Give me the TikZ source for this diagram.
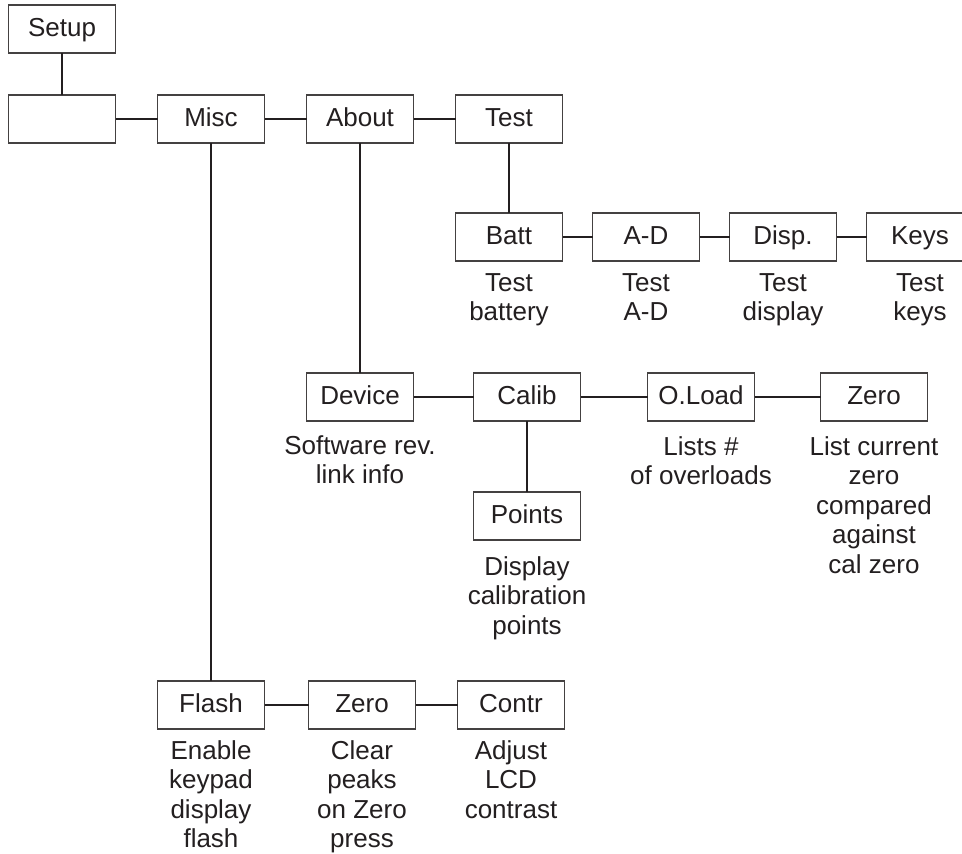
\documentclass[tikz,border=0pt]{standalone}
\usepackage{fontspec}
\setmainfont{Liberation Sans}
\usetikzlibrary{positioning}

\definecolor{ink}{RGB}{35,31,32}
\tikzset{
    box/.style={draw=ink!85, line width=0.55pt, rectangle, minimum width=53.5pt, minimum height=24pt, inner sep=0pt, outer sep=0pt, text height=9.5pt, text depth=2pt},
    note/.style={align=center, inner sep=0pt},
    link/.style={draw=ink, line width=0.75pt}
}

\begin{document}
\begin{tikzpicture}[font=\fontsize{13pt}{14.75pt}\selectfont, text=ink]
                    \fill[white] (-31pt,14.5pt) rectangle (450pt,-412pt);
                    \useasboundingbox (-31pt,14.5pt) rectangle (450pt,-412pt);
                    \clip (-31pt,14.5pt) rectangle (450pt,-412pt);

                    \node[box] (setup) at (0,0) {Setup};
                    \node[box] (menu) [below=21pt of setup] {};
                    \node[box] (misc) [right=21pt of menu] {Misc};
                    \node[box] (about) [right=21pt of misc] {About};
                    \node[box] (test) [right=21pt of about] {Test};

                    \node[box] (batt) [below=35pt of test] {Batt};
                    \node[box] (ad) [right=15pt of batt] {A-D};
                    \node[box] (disp) [right=15pt of ad] {Disp.};
                    \node[box] (keys) [right=15pt of disp] {Keys};

                    \node[box] (device) [below=115pt of about] {Device};
                    \node[box] (calib) [right=30pt of device] {Calib};
                    \node[box] (oload) [right=33.5pt of calib] {O.Load};
                    \node[box] (zero) [right=33pt of oload] {Zero};
                    \node[box] (points) [below=35.5pt of calib] {Points};

                    \node[box] (flash) [below=269pt of misc] {Flash};
                    \node[box] (zerob) [right=22pt of flash] {Zero};
                    \node[box] (contr) [right=21pt of zerob] {Contr};

                    % texts under the boxes
                    \node[note] (battn) [below=6pt of batt] {Test\\battery};
                    \node[note] (adn) [below=6pt of ad] {Test\\A-D};
                    \node[note] (dispn) [below=6pt of disp] {Test\\display};
                    \node[note] (keysn) [below=6pt of keys] {Test\\keys};
                    \node[note] (devicen) [below=7pt of device] {Software rev.\\link info};
                    \node[note] (oloadn) [below=7.5pt of oload] {Lists \#\\of overloads};
                    \node[note] (zeron) [below=7.5pt of zero] {List current\\zero\\compared\\against\\cal zero};
                    \node[note] (pointsn) [below=8pt of points] {Display\\calibration\\points};
                    \node[note] (flashn) [below=5.5pt of flash] {Enable\\keypad\\display\\flash};
                    \node[note] (zerobn) [below=5.5pt of zerob] {Clear\\peaks\\on Zero\\press};
                    \node[note] (contrn) [below=5.5pt of contr] {Adjust\\LCD\\contrast};

                    \draw[link] (setup) edge (menu);
                    \draw[link] (menu) edge (misc);
                    \draw[link] (misc) edge (about);
                    \draw[link] (about) edge (test);
                    \draw[link] (test) edge (batt);
                    \draw[link] (batt) edge (ad);
                    \draw[link] (ad) edge (disp);
                    \draw[link] (disp) edge (keys);
                    \draw[link] (about) edge (device);
                    \draw[link] (device) edge (calib);
                    \draw[link] (calib) edge (oload);
                    \draw[link] (oload) edge (zero);
                    \draw[link] (calib) edge (points);
                    \draw[link] (misc) edge (flash);
                    \draw[link] (flash) edge (zerob);
                    \draw[link] (zerob) edge (contr);
                \end{tikzpicture}
\end{document}
